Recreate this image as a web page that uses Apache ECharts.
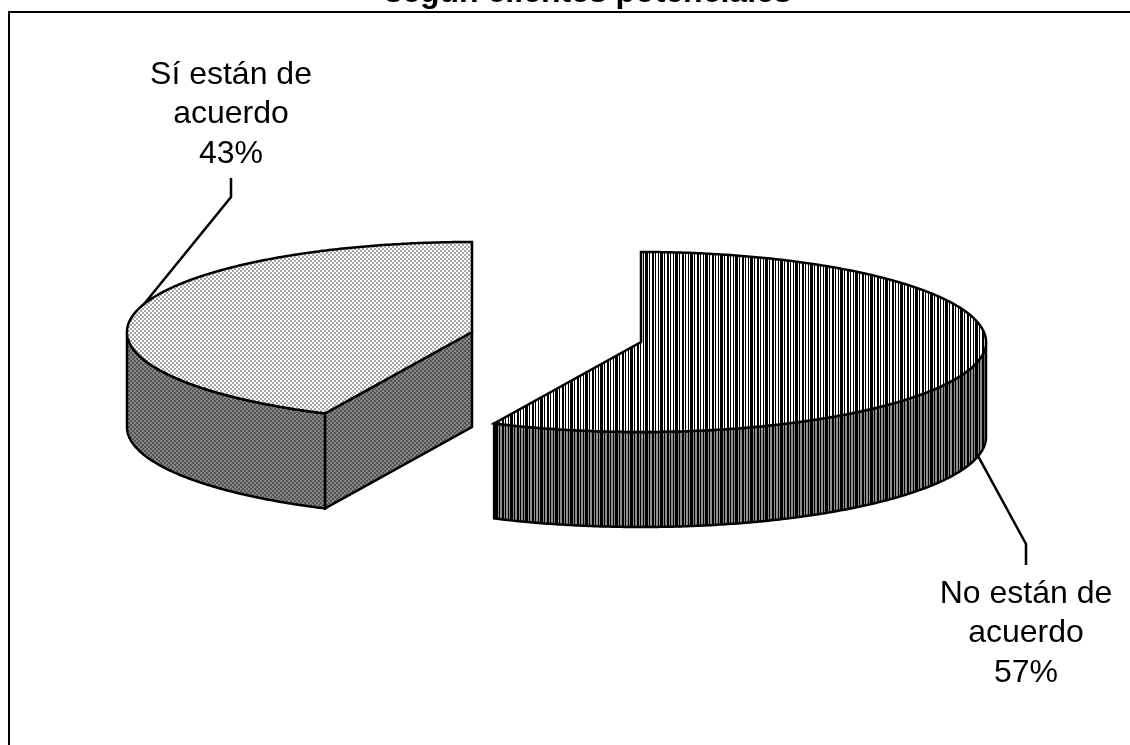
<!DOCTYPE html>
<html lang="es">
<head>
<meta charset="utf-8">
<title>Clientes potenciales</title>
<style>html,body{margin:0;padding:0;background:#fff}#chart{width:1130px;height:745px}</style>
<script src="https://cdn.jsdelivr.net/npm/echarts@6/dist/echarts.min.js"></script>
</head>
<body>
<div id="chart"></div>
<script>
// Survey results
const categories = ['No están de\nacuerdo', 'Sí están de\nacuerdo'];
const shares = [57, 43];
const chartTitle = 'según clientes potenciales';

// Layout of the tilted pie
const RX = 345, RY = 90, DEPTH = 95;
const sliceCentres = [[641, 342], [472, 332]];
const labelAnchors = [[1026, 574], [231, 55]];
const leaderAngles = [102.3, 288];
const leaderElbows = [[[1026, 544], [1026, 565]], [[231, 197], [231, 178]]];

// Small repeating fills, built on offscreen canvases
function tile(rows, colours) {
  const c = document.createElement('canvas');
  c.width = rows[0].length; c.height = rows.length;
  const g = c.getContext('2d');
  rows.forEach((r, y) => [...r].forEach((k, x) => {
    g.fillStyle = colours[k]; g.fillRect(x, y, 1, 1);
  }));
  return { image: c, repeat: 'repeat' };
}
const checks = ['aabb', 'aabb', 'bbaa', 'bbaa'];
const stripes = ['aaababbaababbab'];
const fills = [
  { top: tile(stripes, { a: '#000', b: '#fff' }), side: tile(stripes, { a: '#000', b: '#8c8c8c' }) },
  { top: tile(checks, { a: '#fff', b: '#a6a6a6' }), side: tile(checks, { a: '#858585', b: '#555' }) }
];

// Angles are measured clockwise from the top of the ellipse
const total = shares.reduce((s, v) => s + v, 0);
const at = (c, deg, drop = 0) => {
  const r = deg * Math.PI / 180;
  return [c[0] + RX * Math.sin(r), c[1] - RY * Math.cos(r) + drop];
};
function arc(c, from, to, drop = 0) {
  const n = Math.max(2, Math.ceil(Math.abs(to - from) * 2));
  const pts = [];
  for (let i = 0; i <= n; i++) pts.push(at(c, from + (to - from) * i / n, drop));
  return pts;
}
const ink = { stroke: '#000', lineWidth: 2.5, lineJoin: 'miter' };
const shape = (points, fill) => ({
  type: 'polygon', shape: { points }, style: { fill, ...ink }
});

function renderSlice(params, api) {
  const i = params.dataIndex;
  const value = api.value(0);
  const before = shares.slice(0, i).reduce((s, v) => s + v, 0);
  const start = before / total * 360;
  const end = (before + value) / total * 360;
  const c = sliceCentres[i];
  const f = fills[i];
  const top = [c, ...arc(c, start, end)];
  const children = [];

  // Outer wall: only the part of the rim facing the viewer
  const wallFrom = Math.max(start, 90), wallTo = Math.min(end, 270);
  if (wallTo > wallFrom) {
    children.push(shape([...arc(c, wallFrom, wallTo), ...arc(c, wallTo, wallFrom, DEPTH)], f.side));
  }
  // Cut face turned towards the viewer
  if (start > 90 && start < 270) {
    const p = at(c, start);
    children.push(shape([p, c, [c[0], c[1] + DEPTH], [p[0], p[1] + DEPTH]], f.side));
  }
  children.push(shape(top, f.top));

  // Leader line and label
  const a = labelAnchors[i];
  children.push({
    type: 'polyline',
    shape: { points: [at(c, leaderAngles[i], i === 0 ? DEPTH : 0), ...leaderElbows[i]] },
    style: { fill: null, ...ink }
  });
  children.push({
    type: 'text',
    style: {
      text: categories[i] + '\n' + value + '%',
      x: a[0], y: a[1],
      align: 'center', verticalAlign: 'top',
      font: '32px "Liberation Sans", Arial, sans-serif',
      lineHeight: 39.5, fill: '#000'
    }
  });
  return { type: 'group', children };
}

const chart = echarts.init(document.getElementById('chart'), null, { renderer: 'canvas' });
chart.setOption({
  animation: false,
  backgroundColor: '#fff',
  title: {
    text: chartTitle,
    left: 588, top: -23, textAlign: 'center', padding: 0,
    textStyle: { fontFamily: '"Liberation Sans", Arial, sans-serif', fontSize: 32, fontWeight: 'bold', color: '#000' }
  },
  graphic: [{
    type: 'rect', silent: true,
    shape: { x: 9, y: 12, width: 1300, height: 900 },
    style: { fill: null, stroke: '#000', lineWidth: 2 }
  }],
  series: [{
    type: 'custom',
    coordinateSystem: 'none',
    renderItem: renderSlice,
    data: shares.map(v => [v]),
    silent: true
  }]
});
</script>
</body>
</html>
